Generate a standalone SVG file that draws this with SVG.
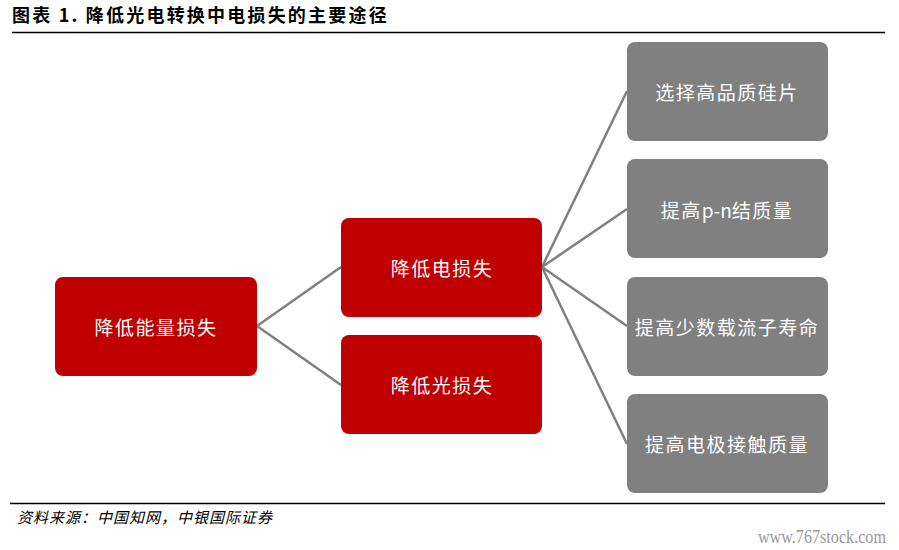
<svg xmlns="http://www.w3.org/2000/svg" width="899" height="550" viewBox="0 0 899 550">
<style>
.red{fill:#C00000}
.gray{fill:#808080}
.lbl{font-family:"Noto Sans CJK SC","Liberation Serif",serif;font-size:19px;fill:#ffffff;text-anchor:middle;dominant-baseline:central;letter-spacing:1.5px}
.conn{stroke:#808080;stroke-width:2.5;fill:none}
</style>
<rect width="899" height="550" fill="#ffffff"/>
<g id="header">
<text x="12" y="22" font-family="'Noto Sans CJK SC','Liberation Sans',sans-serif" font-size="18" font-weight="bold" fill="#000" letter-spacing="2.2">图表 1. 降低光电转换中电损失的主要途径</text>
<line x1="12" y1="32.5" x2="885" y2="32.5" stroke="#000" stroke-width="1.3"/>
</g>
<g id="connectors">
<line class="conn" x1="257" y1="326" x2="341" y2="267"/>
<line class="conn" x1="257" y1="326" x2="341" y2="385"/>
<line class="conn" x1="542" y1="267" x2="627" y2="91"/>
<line class="conn" x1="542" y1="267" x2="627" y2="209"/>
<line class="conn" x1="542" y1="267" x2="627" y2="326"/>
<line class="conn" x1="542" y1="267" x2="627" y2="444"/>
</g>
<g id="n1"><rect class="red" x="55" y="277" width="202" height="99" rx="8"/><text class="lbl" x="156" y="326">降低能量损失</text></g>
<g id="n2"><rect class="red" x="341" y="218" width="201" height="99" rx="8"/><text class="lbl" x="442" y="267">降低电损失</text></g>
<g id="n3"><rect class="red" x="341" y="335" width="201" height="99" rx="8"/><text class="lbl" x="442" y="384">降低光损失</text></g>
<g id="n4"><rect class="gray" x="627" y="42" width="201" height="99" rx="8"/><text class="lbl" x="727" y="91">选择高品质硅片</text></g>
<g id="n5"><rect class="gray" x="627" y="159" width="201" height="99" rx="8"/><text class="lbl" x="727" y="209">提高<tspan letter-spacing="0">p-n</tspan>结质量</text></g>
<g id="n6"><rect class="gray" x="627" y="277" width="201" height="99" rx="8"/><text class="lbl" x="727" y="326">提高少数载流子寿命</text></g>
<g id="n7"><rect class="gray" x="627" y="394" width="201" height="99" rx="8"/><text class="lbl" x="727" y="443">提高电极接触质量</text></g>
<g id="footer">
<line x1="10" y1="503.5" x2="885" y2="503.5" stroke="#000" stroke-width="1.3"/>
<text x="17" y="523" font-family="'Noto Sans CJK SC','Liberation Serif',serif" font-size="15" font-style="italic" fill="#000" letter-spacing="1">资料来源：中国知网，中银国际证券</text>
<text x="886" y="543" text-anchor="end" font-family="'Liberation Serif',serif" font-size="19" fill="#999999" transform="translate(886 0) scale(0.85 1) translate(-886 0)">www.767stock.com</text>
</g>
</svg>
